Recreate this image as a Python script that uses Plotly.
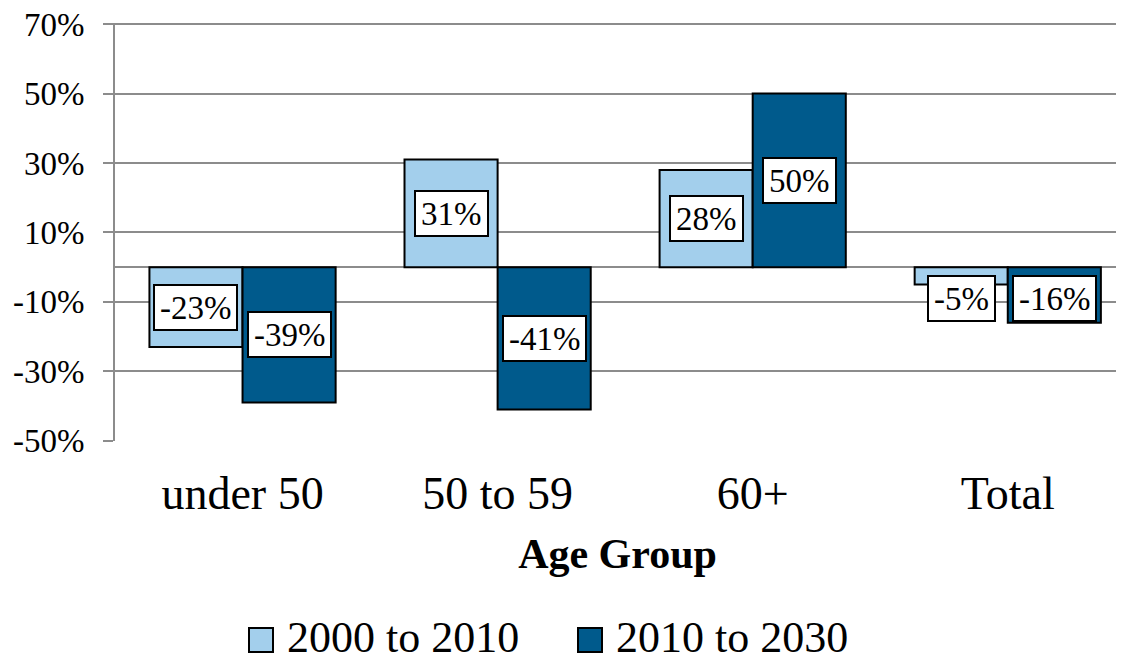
import plotly.graph_objects as go

CATEGORIES = ["under 50", "50 to 59", "60+", "Total"]
SERIES_NAMES = ["2000 to 2010", "2010 to 2030"]
CHANGE_2000_2010 = [-23, 31, 28, -5]
CHANGE_2010_2030 = [-39, -41, 50, -16]
Y_TICKS = [-50, -30, -10, 10, 30, 50, 70]

COLORS = ["#a3cfec", "#005a8c"]
FONT = "Liberation Serif"
GRID = "#8c8c8c"

# the page body has an 8px margin, so the figure is drawn 8px in from the corner
PAGE = 8
W, H = 1124 - PAGE, 660 - PAGE
ML, MR, MT, MB = 115 - PAGE, 4, 23 - PAGE, 219
PLOT_W = W - ML - MR
PLOT_H = H - MT - MB

BARGAP = 0.27
half_bar = (1 - BARGAP) / 4


def px_x(px):
    # screen pixel -> paper fraction
    return (px - PAGE - ML) / PLOT_W


def px_y(py):
    return (H - MB - (py - PAGE)) / PLOT_H


fig = go.Figure()
for name, vals, color in zip(SERIES_NAMES, [CHANGE_2000_2010, CHANGE_2010_2030], COLORS):
    fig.add_trace(go.Bar(
        x=list(range(len(CATEGORIES))),
        y=vals,
        name=name,
        showlegend=False,
        marker=dict(color=color, line=dict(color="#000000", width=2)),
    ))

# value labels in white boxes, centred on each bar
for k, vals in enumerate([CHANGE_2000_2010, CHANGE_2010_2030]):
    offset = -half_bar if k == 0 else half_bar
    for i, v in enumerate(vals):
        ly = v / 2 if v > 0 else min(v / 2, -9)
        fig.add_annotation(
            x=i + offset, y=ly, text=f"{v}%", showarrow=False,
            font=dict(family=FONT, size=33, color="#000000"),
            height=33, valign="middle",
            bgcolor="#ffffff", bordercolor="#000000", borderwidth=2, borderpad=5,
        )

# legend drawn by hand so the swatches can match the original size
legend_spots = [(249, 285), (578, 614)]
for (sx, tx), name, color in zip(legend_spots, SERIES_NAMES, COLORS):
    fig.add_shape(
        type="rect", xref="paper", yref="paper",
        x0=px_x(sx), x1=px_x(sx + 24), y0=px_y(652), y1=px_y(628),
        fillcolor=color, line=dict(color="#000000", width=2),
    )
    fig.add_annotation(
        xref="paper", yref="paper", x=px_x(tx), y=px_y(637),
        xanchor="left", yanchor="middle", text=name, showarrow=False,
        font=dict(family=FONT, size=44, color="#000000"),
        height=40, valign="middle",
    )

fig.update_layout(
    width=W, height=H,
    margin=dict(l=ML, r=MR, t=MT, b=MB),
    paper_bgcolor="#ffffff", plot_bgcolor="#ffffff",
    barmode="group", bargap=BARGAP, bargroupgap=0,
    font=dict(family=FONT, color="#000000"),
    showlegend=False,
)
fig.update_xaxes(
    tickmode="array", tickvals=list(range(len(CATEGORIES))), ticktext=CATEGORIES,
    range=[-0.5, 3.44], showgrid=False, showline=False, automargin=False,
    ticks="outside", ticklen=12, tickcolor="rgba(0,0,0,0)",
    tickfont=dict(family=FONT, size=46, color="#000000"),
    title=dict(text="<b>Age Group</b>", font=dict(family=FONT, size=42, color="#000000"), standoff=20),
)
fig.update_yaxes(
    range=[-50.05, 70.3], tickmode="array", tickvals=Y_TICKS,
    ticktext=[f"{t}%" for t in Y_TICKS], automargin=False,
    ticklabeloverflow="allow",
    showgrid=True, gridcolor=GRID, gridwidth=2,
    zeroline=True, zerolinecolor=GRID, zerolinewidth=2,
    showline=True, linecolor=GRID, linewidth=2,
    ticks="outside", ticklen=10, tickcolor=GRID, tickwidth=2,
    ticklabelstandoff=12,
    tickfont=dict(family=FONT, size=33, color="#000000"),
)

fig.write_html("out.html")
